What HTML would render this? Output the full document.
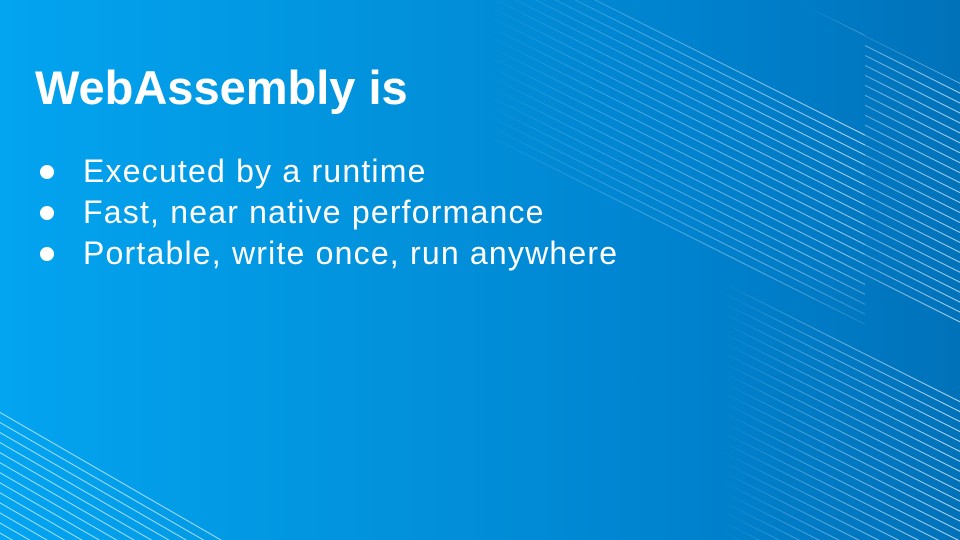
<!DOCTYPE html>
<html><head><meta charset="utf-8"><style>
html,body{margin:0;padding:0}
body{width:960px;height:540px;overflow:hidden;position:relative;background:linear-gradient(90deg,#03a4f0 0%,#0292dc 40%,#0083cf 70%,#0072ba 100%);font-family:"Liberation Sans",Arial,sans-serif;color:#fff}
svg{position:absolute;left:0;top:0}
h1{position:absolute;left:35px;top:60px;margin:0;font-size:47px;font-weight:bold;line-height:56px;letter-spacing:0px}
ul{position:absolute;left:0;top:151px;margin:0;padding:0;list-style:none;font-size:32px;line-height:41px;letter-spacing:1.2px}
li{position:relative;padding-left:83px}
li:before{content:"";position:absolute;left:40px;top:14px;width:14px;height:14px;border-radius:50%;background:#fff}
</style></head><body>
<svg width="960" height="540" viewBox="0 0 960 540">
<defs>
<pattern id="p1" width="20" height="8.9" patternUnits="userSpaceOnUse" patternTransform="rotate(26.6)">
<rect x="0" y="0" width="20" height="1" fill="#fff"/>
</pattern>
<pattern id="p2" width="20" height="8.7" patternUnits="userSpaceOnUse" patternTransform="rotate(30)">
<rect x="0" y="0" width="20" height="1" fill="#fff"/>
</pattern>
<linearGradient id="fa" x1="480" y1="0" x2="865" y2="0" gradientUnits="userSpaceOnUse">
<stop offset="0" stop-color="#fff" stop-opacity="0"/><stop offset="0.5" stop-color="#fff" stop-opacity="0.35"/><stop offset="1" stop-color="#fff" stop-opacity="0.75"/>
</linearGradient>
<linearGradient id="fb" x1="790" y1="0" x2="960" y2="0" gradientUnits="userSpaceOnUse">
<stop offset="0" stop-color="#fff" stop-opacity="0.1"/><stop offset="0.6" stop-color="#fff" stop-opacity="0.5"/><stop offset="1" stop-color="#fff" stop-opacity="0.7"/>
</linearGradient>
<linearGradient id="fc" x1="720" y1="0" x2="960" y2="0" gradientUnits="userSpaceOnUse">
<stop offset="0" stop-color="#fff" stop-opacity="0"/><stop offset="0.5" stop-color="#fff" stop-opacity="0.4"/><stop offset="1" stop-color="#fff" stop-opacity="0.75"/>
</linearGradient>
<linearGradient id="fv" x1="0" y1="130" x2="0" y2="340" gradientUnits="userSpaceOnUse">
<stop offset="0" stop-color="#fff" stop-opacity="1"/><stop offset="0.6" stop-color="#fff" stop-opacity="0.8"/><stop offset="1" stop-color="#fff" stop-opacity="0"/>
</linearGradient>
<mask id="ma"><rect width="960" height="540" fill="url(#fa)"/></mask>
<mask id="mb"><rect width="960" height="540" fill="url(#fb)"/></mask>
<mask id="mc"><rect width="960" height="540" fill="url(#fc)"/></mask>
<mask id="mv"><rect width="960" height="540" fill="url(#fv)"/></mask>
</defs>
<g mask="url(#mv)"><polygon mask="url(#ma)" points="480,-59 865,133 865,330 480,138" fill="url(#p1)"/></g>
<polygon mask="url(#mb)" points="793,0 960,83 960,330 865,282 865,35" fill="url(#p1)"/>
<polygon mask="url(#mc)" points="720,280 960,400 960,540 720,540" fill="url(#p1)"/>
<polygon opacity="0.65" points="0,407 230,540 0,540" fill="url(#p2)"/>
</svg>
<h1>WebAssembly is</h1>
<ul>
<li>Executed by a runtime</li>
<li>Fast, near native performance</li>
<li>Portable, write once, run anywhere</li>
</ul>
</body></html>
